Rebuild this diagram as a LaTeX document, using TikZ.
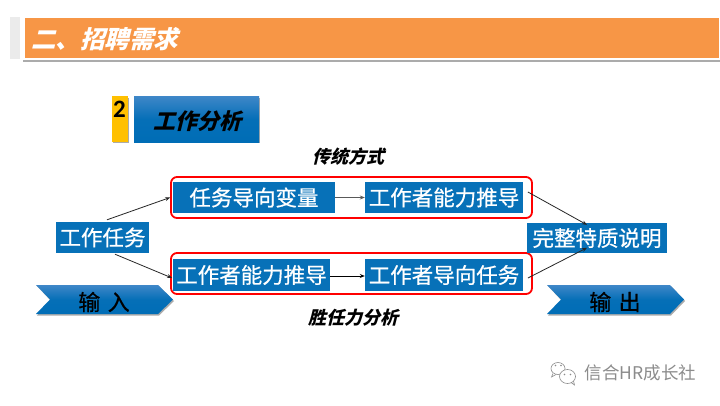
\documentclass[tikz,border=0pt]{standalone}
\usepackage{fontspec}
\setmainfont{Noto Sans CJK SC}
\newfontfamily\cjkreg{Noto Sans CJK SC}
\newfontfamily\cjkmed[FakeBold=0.6]{Noto Sans CJK SC}
\newfontfamily\cjkslant[FakeSlant=0.25,BoldFeatures={FakeSlant=0.25}]{Noto Sans CJK SC}
\newfontfamily\numfont{Carlito}
\usetikzlibrary{arrows.meta}
\definecolor{barorange}{HTML}{F79646}
\definecolor{boxblue}{HTML}{0771B8}
\definecolor{gradtop}{HTML}{3F87C8}
\definecolor{gradbot}{HTML}{006DB6}
\definecolor{stripgrey}{HTML}{EBEBEB}
\definecolor{shade}{HTML}{ABABAB}
\definecolor{wmgrey}{HTML}{8C8C8C}
\definecolor{tagyellow}{HTML}{FFC000}
\tikzset{
  px/.style={x=1pt,y=-1pt},
  bluebox/.style={fill=boxblue,text=white,inner sep=0pt,font=\cjkmed\fontsize{21.5}{24}\selectfont,anchor=center},
  redbox/.style={draw=red,line width=1.8pt,rounded corners=6pt,inner sep=0pt,fill=white},
  conn/.style={draw=black!85,line width=0.8pt,-{Stealth[length=5pt,width=4pt]}},
  midconn/.style={line width=0.8pt,-{Stealth[length=5pt,width=4pt]}},
  slanthead/.style={font=\cjkslant\bfseries\fontsize{#1}{#1}\selectfont,inner sep=0pt},
  gradfill/.style={top color=gradtop,bottom color=gradbot,middle color=gradbot!92!gradtop},
  shadowfill/.style={fill=shade},
}
\begin{document}
\begin{tikzpicture}[px]
\useasboundingbox (0,0) rectangle (720,405);
\fill[white] (0,0) rectangle (720,405);

% title bar
\fill[stripgrey] (10,17) rectangle (20,59);
\fill[shadowfill] (23,20) rectangle (720,61.5);
\fill[white] (23,16) rectangle (720,60);
\node[fill=barorange,minimum width=694pt,minimum height=40pt,inner sep=0pt] (bar) at (372,38) {};
\node[slanthead=24.5,text=white] (title) at (104.5,39) {二、招聘需求};

% section tag
\fill[shadowfill] (113,97.5) rectangle (129,143);
\node[fill=tagyellow,minimum width=16pt,minimum height=46pt,inner sep=0pt] (tagbox) at (120,119) {};
\node[font=\numfont\bfseries\fontsize{25}{25}\selectfont,inner sep=0pt] (tagnum) at (119.5,109) {2};
\fill[shadowfill] (135,97.5) rectangle (260,143);
\node[gradfill,minimum width=125pt,minimum height=46pt,inner sep=0pt] (tagtitle) at (196.5,119) {};
\node[slanthead=22] (tagtext) at (197.5,121) {工作分析};

% captions
\node[slanthead=18] (captop) at (348,157) {传统方式};
\node[slanthead=18] (capbot) at (353,318) {胜任力分析};

% red frames
\node[redbox,minimum width=361pt,minimum height=41pt] (framea) at (351.5,197.5) {};
\node[redbox,minimum width=361pt,minimum height=41pt] (frameb) at (351.5,273.5) {};

% blue boxes
\node[bluebox,minimum width=93pt,minimum height=31pt] (task) at (102.5,237.5) {工作任务};
\node[bluebox,minimum width=162pt,minimum height=31pt] (var) at (254,197.5) {任务导向变量};
\node[bluebox,minimum width=158pt,minimum height=31pt] (ability) at (444,197.5) {工作者能力推导};
\node[bluebox,minimum width=157pt,minimum height=32pt] (ability2) at (251.5,275) {工作者能力推导};
\node[bluebox,minimum width=158pt,minimum height=32pt] (worker) at (444,275) {工作者导向任务};
\node[bluebox,minimum width=140pt,minimum height=30pt] (result) at (597,238) {完整特质说明};

% chevrons
\fill[shadowfill] (37,286) -- (159,286) -- (174,301) -- (159,315.5) -- (37,315.5) -- (51,301) -- cycle;
\shade[gradfill] (36,285) -- (158,285) -- (173,299.5) -- (158,314) -- (36,314) -- (50,299.5) -- cycle;
\node[font=\cjkmed\fontsize{22}{24}\selectfont,inner sep=0pt] (inlabel) at (104,302) {输\,\,入};
\fill[shadowfill] (548,286) -- (671,286) -- (685,301) -- (671,315.5) -- (548,315.5) -- (562,301) -- cycle;
\shade[gradfill] (547,285) -- (670,285) -- (684,299.5) -- (670,314) -- (547,314) -- (561,299.5) -- cycle;
\node[font=\cjkmed\fontsize{22}{24}\selectfont,inner sep=0pt] (outlabel) at (615,302) {输\,\,出};

% connectors
\draw[conn] ([shift={(4.5,-2)}]task.north) -- (framea.west);
\draw[conn] ([shift={(12.5,1)}]task.south) -- ([shift={(2,4.5)}]frameb.west);
\draw[midconn,draw=black!65] (var.east) -- (ability.west);
\draw[midconn,draw=black] ([yshift=-1pt]ability2.east) -- ([yshift=-1pt]worker.west);
\draw[conn] ([shift={(-5,-5.5)}]framea.east) -- ([shift={(-10,2)}]result.north);
\draw[conn] ([shift={(-5,4.5)}]frameb.east) -- ([shift={(-10,25)}]result.north);

% watermark
\begin{scope}[draw=wmgrey,line width=0.6pt]
\draw (558,368.5) ellipse (7pt and 6pt);
\fill[white] (567.5,376.5) ellipse (8pt and 7pt);
\draw (567.5,376.5) ellipse (8pt and 7pt);
\draw (553,373.5) -- (551.5,377) -- (556,374.5);
\draw (571,382.5) -- (574.5,385) -- (573.5,381);
\fill[wmgrey] (555.5,365.5) circle (0.9pt) (561,365.5) circle (0.9pt);
\fill[wmgrey] (564.5,374.5) circle (0.8pt) (570.5,374.5) circle (0.8pt);
\end{scope}
\node[text=wmgrey,font=\cjkreg\fontsize{17.5}{18}\selectfont,inner sep=0pt] (wm) at (640.5,372.5) {信合HR成长社};
\end{tikzpicture}
\end{document}
